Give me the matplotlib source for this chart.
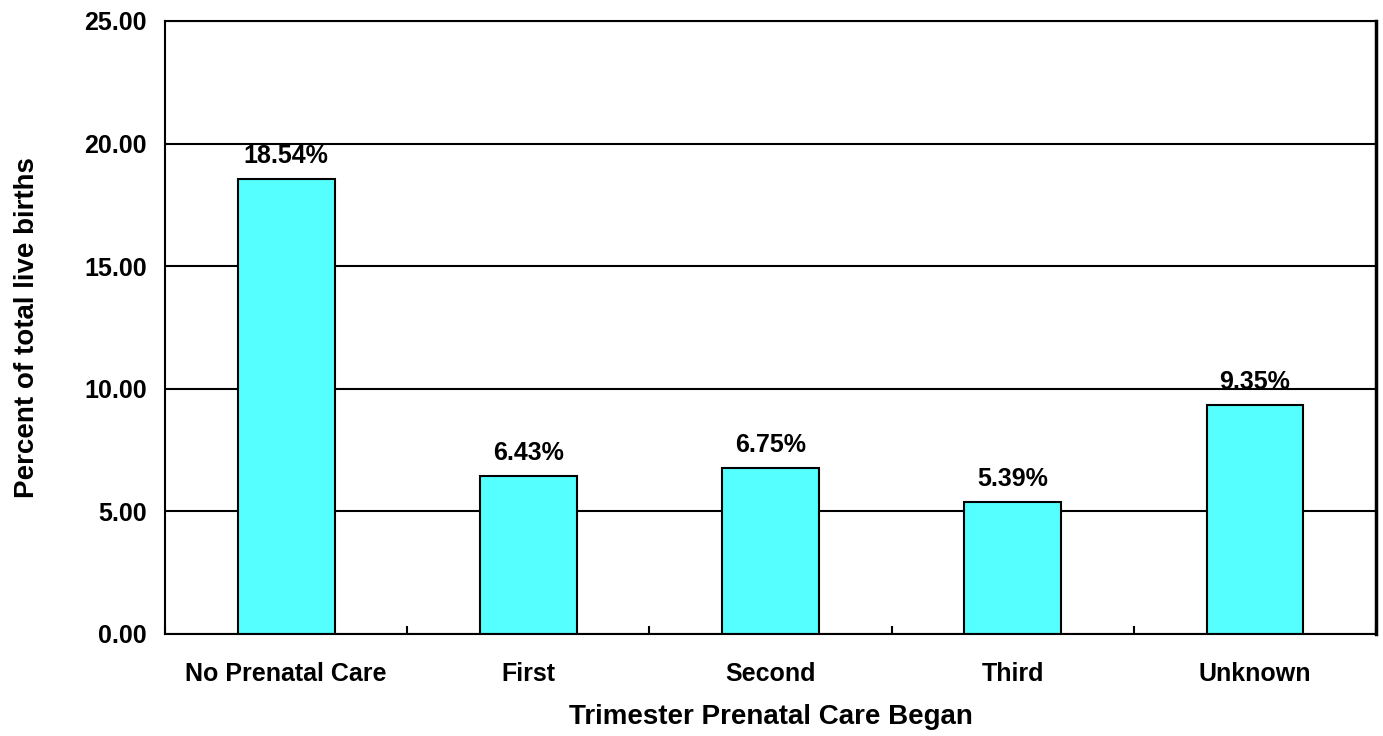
import matplotlib
matplotlib.use("Agg")
import matplotlib.pyplot as plt
import numpy as np

plt.rcParams['font.family'] = ['Liberation Sans', 'DejaVu Sans']
plt.rcParams['font.weight'] = 'bold'

kategorie = ["No Prenatal Care", "First", "Second", "Third", "Unknown"]
hodnoty = [18.54, 6.43, 6.75, 5.39, 9.35]
y_ticky = [0, 5, 10, 15, 20, 25]

fig = plt.figure(figsize=(13.83, 7.36), dpi=100)
ax = fig.add_axes([0.1193, 0.1386, 0.8757, 0.8329])

x = np.arange(len(kategorie))
ax.bar(x, hodnoty, width=0.4, color="#55FFFF", edgecolor="black", linewidth=1.5, zorder=3)
for xi, v in zip(x, hodnoty):
    ax.text(xi, v + 0.45, f"{v:.2f}%", ha="center", va="bottom", fontsize=18, fontweight="bold")

ax.set_xlim(-0.5, len(kategorie) - 0.5)
ax.set_ylim(0, 25)
ax.set_yticks(y_ticky)
ax.set_yticklabels([f"{t:.2f}" for t in y_ticky], fontsize=18, fontweight="bold")
ax.yaxis.grid(True, color="black", linewidth=1.5, zorder=0)
ax.tick_params(axis="y", length=0, pad=13)

ax.set_xticks(x)
ax.set_xticklabels(kategorie, fontsize=18, fontweight="bold")
ax.set_xticks(np.arange(-0.5, len(kategorie), 1.0), minor=True)
ax.tick_params(axis="x", which="major", length=0, pad=20)
ax.tick_params(axis="x", which="minor", direction="in", length=6, width=1.5)

for s in ax.spines.values():
    s.set_linewidth(1.5)
    s.set_zorder(4)
ax.spines["right"].set_linewidth(2.5)

ax.set_xlabel("Trimester Prenatal Care Began", fontsize=20, fontweight="bold", labelpad=13)
ax.set_ylabel("Percent of total live births", fontsize=20, fontweight="bold", labelpad=32)

fig.savefig("out.png", dpi=100)
plt.close()
